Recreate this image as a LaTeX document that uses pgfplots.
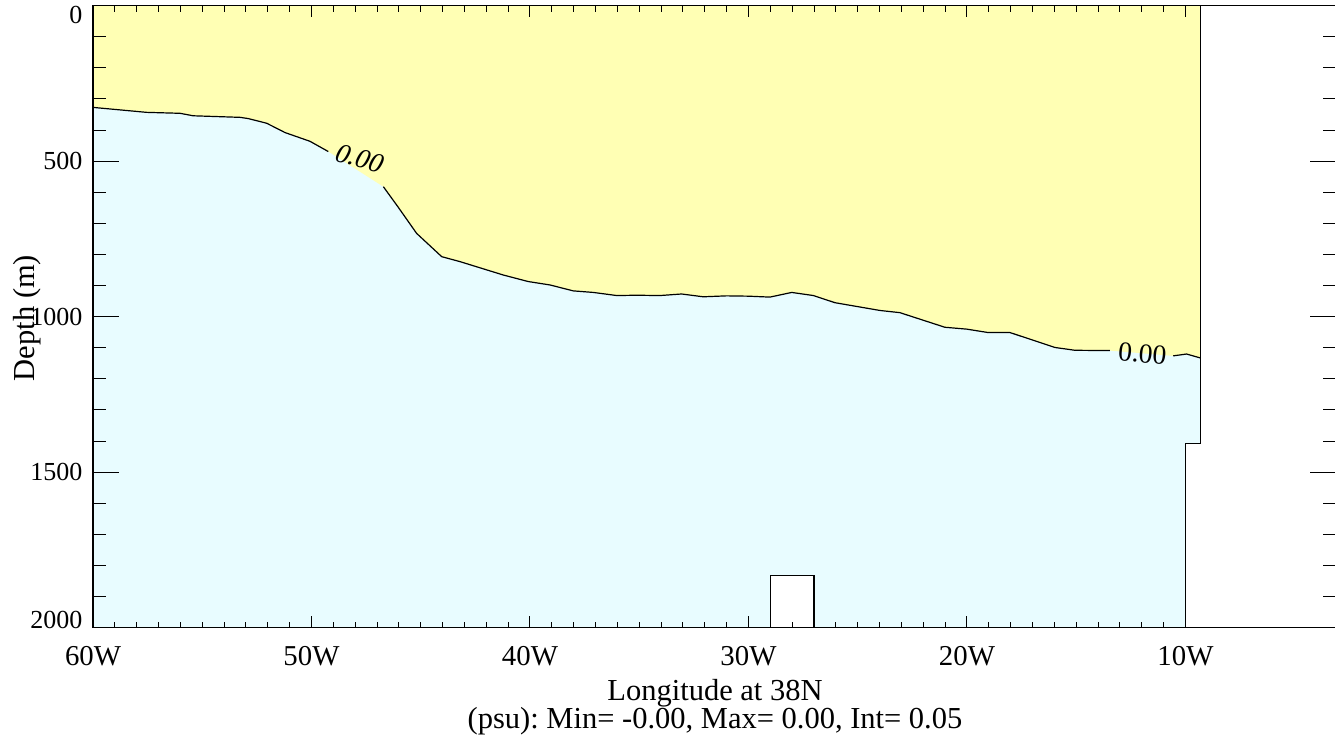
\documentclass[border=0pt]{standalone}
\usepackage{fontspec}
\setmainfont{Liberation Serif}
\usepackage{pgfplots}
\pgfplotsset{compat=1.18}
\definecolor{yfill}{RGB}{255,255,180}
\definecolor{cfill}{RGB}{232,252,255}
\frenchspacing
\begin{document}
\frenchspacing
\begin{tikzpicture}
\pgfplotsset{
  common/.style={
    at={(0,0)}, anchor=south west,
    scale only axis, width=621.5pt, height=311pt,
    xmin=-60, xmax=-3.11, ymin=0, ymax=2000, y dir=reverse,
    axis line style={black, line width=0.6pt},
    tick style={black, line width=0.5pt},
    tick align=inside,
    /pgf/number format/assume math mode=true,
  }
}
\begin{axis}[common,
  axis on top,
  xtick={-60,-50,-40,-30,-20,-10},
  xticklabels={60W,50W,40W,30W,20W,10W},
  minor x tick num=9,
  ytick=\empty,
  major tick length=5.85pt, minor tick length=3pt,
  xticklabel style={font=\fontsize{14.4}{17}\selectfont, anchor=base, inner sep=0pt, yshift=-19.15pt},
]
% ocean (below contour)
\addplot[fill=cfill, draw=none] coordinates {(-60,0) (-9.3,0) (-9.3,1407) (-10,1407) (-10,2000) (-60,2000)};
% above contour
\addplot[fill=yfill, draw=none] coordinates {
(-60,327) (-57.54,343) (-56.02,346) (-55.41,354) (-53.27,359) (-52.89,363) (-52.05,378)
(-51.21,408) (-50.07,436) (-49.23,469) (-46.71,582) (-46.03,648) (-45.19,732) (-44.04,807)
(-43.20,823) (-41.22,866) (-40.08,887) (-39.08,898) (-38.02,917) (-37.10,922) (-36.03,932)
(-35.12,931) (-34.05,932) (-33.06,927) (-32.07,936) (-31.00,933) (-30.01,934) (-29.02,937)
(-28.02,922) (-27.03,932) (-26.04,955) (-23.98,980) (-23.07,987) (-21.01,1034) (-20.01,1040)
(-19.03,1051) (-18.03,1051) (-15.97,1099) (-15.06,1108) (-13.46,1109) (-10.56,1126)
(-9.95,1120) (-9.3,1133) (-9.3,0) (-60,0)};
% contour line segments
\addplot[black, line width=0.6pt] coordinates {
(-60,327) (-57.54,343) (-56.02,346) (-55.41,354) (-53.27,359) (-52.89,363) (-52.05,378)
(-51.21,408) (-50.07,436) (-49.23,469)};
\addplot[black, line width=0.6pt] coordinates {
(-46.71,582) (-46.03,648) (-45.19,732) (-44.04,807)
(-43.20,823) (-41.22,866) (-40.08,887) (-39.08,898) (-38.02,917) (-37.10,922) (-36.03,932)
(-35.12,931) (-34.05,932) (-33.06,927) (-32.07,936) (-31.00,933) (-30.01,934) (-29.02,937)
(-28.02,922) (-27.03,932) (-26.04,955) (-23.98,980) (-23.07,987) (-21.01,1034) (-20.01,1040)
(-19.03,1051) (-18.03,1051) (-15.97,1099) (-15.06,1108) (-13.46,1109)};
\addplot[black, line width=0.6pt] coordinates {(-10.56,1126) (-9.95,1120) (-9.3,1133)};
% seamount
\addplot[fill=white, draw=black, line width=0.6pt] coordinates {(-29,2000) (-29,1832) (-27,1832) (-27,2000)};
% land edge
\addplot[black, line width=0.6pt] coordinates {(-9.3,0) (-9.3,1407) (-10,1407) (-10,2000)};
% contour labels
\node[font=\fontsize{13.8}{16}\selectfont, rotate=-16, xslant=0.2, inner sep=0pt] at (axis cs:-47.78,492) {0.00};
\node[font=\fontsize{13.8}{16}\selectfont, rotate=-5, inner sep=0pt] at (axis cs:-11.97,1119) {0.00};
\end{axis}
\begin{axis}[common,
  xtick=\empty,
  ytick={0,500,1000,1500,2000},
  yticklabels={{\raisebox{-4.4pt}[\height][\depth]{0}},500,1000,1500,{\raisebox{4.1pt}[\height][\depth]{2000}}},
  minor y tick num=4,
  major tick length=12.85pt, minor tick length=6.65pt,
  yticklabel style={font=\fontsize{13}{15}\selectfont, anchor=east, inner sep=0pt, xshift=-5.15pt},
]
\end{axis}
\node[anchor=base, font=\fontsize{15.25}{18}\selectfont] at (311pt,-36.65pt) {Longitude at 38N};
\node[anchor=base, font=\fontsize{15.25}{18}\selectfont] at (311pt,-50.65pt) {(psu): Min= -0.00, Max= 0.00, Int= 0.05};
\node[rotate=90, anchor=base, font=\fontsize{15.25}{18}\selectfont] at (-29.25pt,154.85pt) {Depth (m)};
\pgfresetboundingbox
\useasboundingbox (-46.5pt,-57.15pt) rectangle (621pt,313.85pt);
\end{tikzpicture}
\end{document}
